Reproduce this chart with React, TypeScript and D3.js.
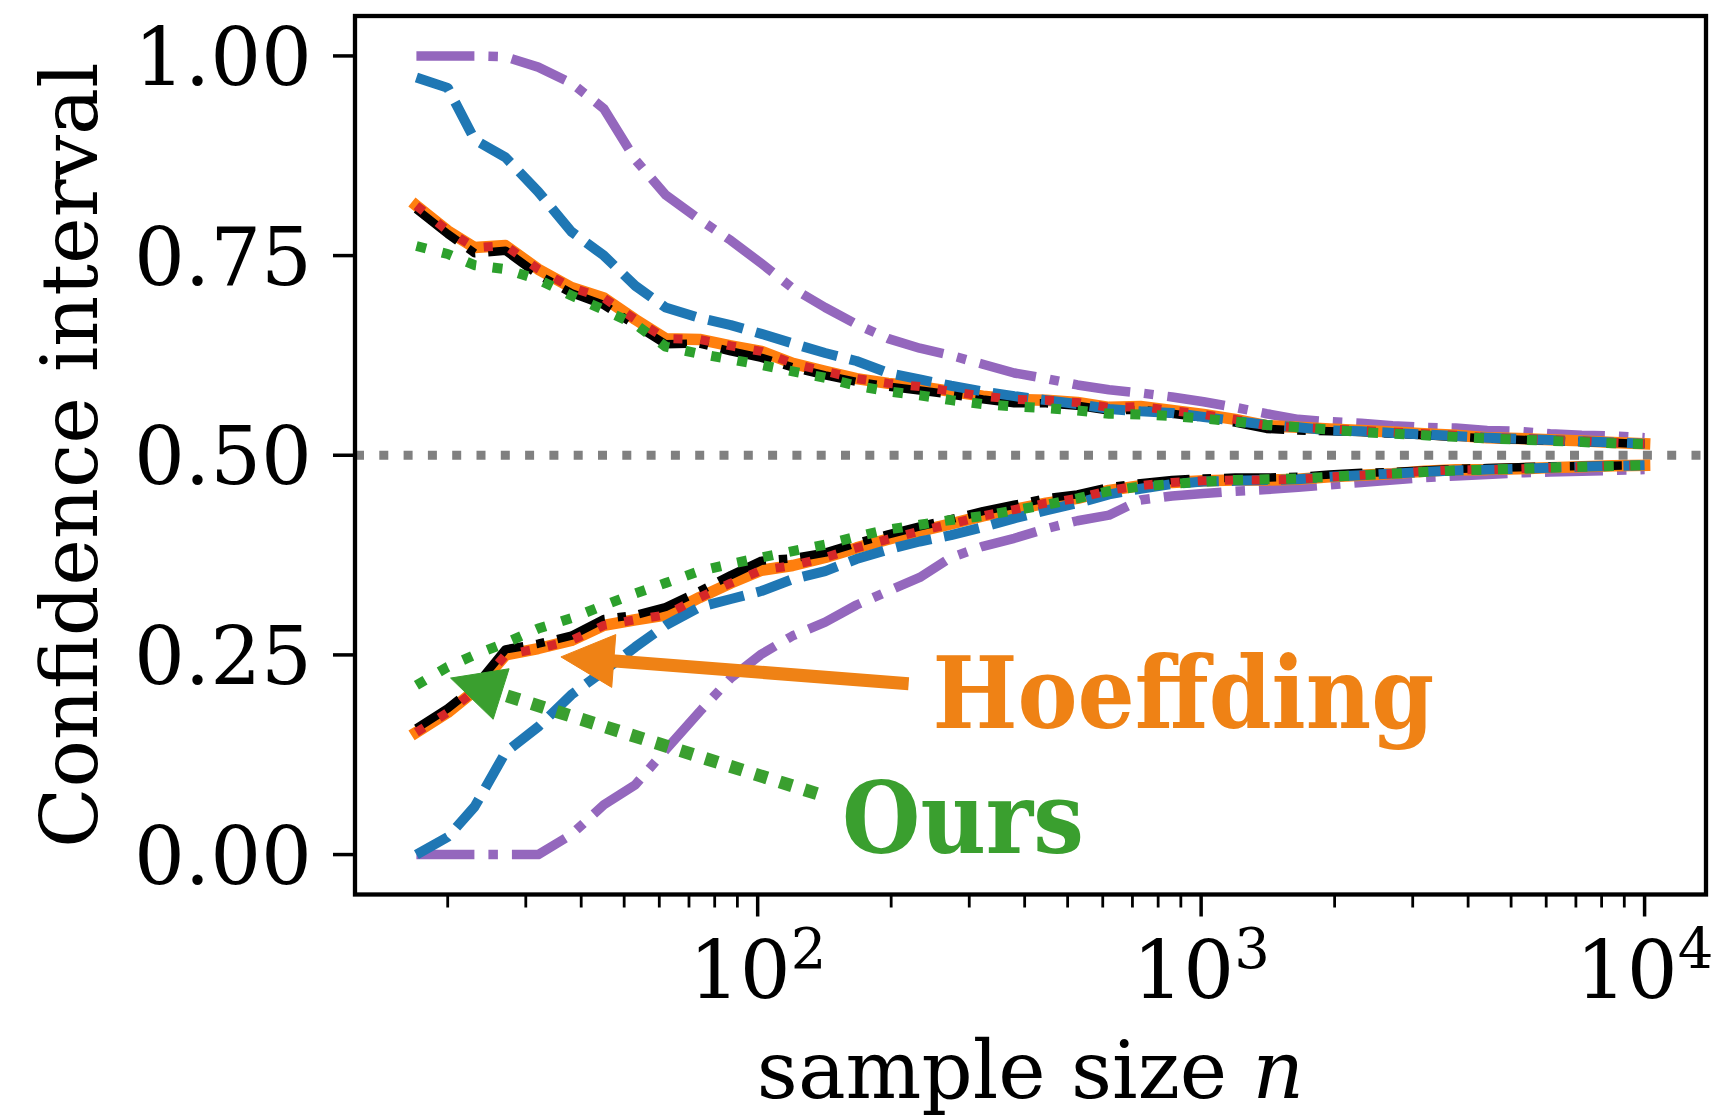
import React from 'react';
import * as d3 from 'd3';

// Sample sizes (log-spaced) at which the intervals were evaluated
const sampleSizes = [17, 20, 23, 27, 32, 38, 45, 53, 62, 74, 87, 102, 120, 142, 167, 197, 232, 273, 322, 379, 447, 526, 620, 730, 860, 1013, 1193, 1405, 1655, 1949, 2296, 2704, 3184, 3750, 4416, 5202, 6126, 7215, 8497, 10000];

// Hoeffding bound (orange, also traced in red dots)
const hoeffdingUpper = [0.8125, 0.781, 0.76, 0.7625, 0.733, 0.71, 0.697, 0.67, 0.646, 0.645, 0.637, 0.63, 0.615, 0.605, 0.596, 0.59, 0.586, 0.58, 0.574, 0.57, 0.569, 0.566, 0.56, 0.561, 0.556, 0.551, 0.545, 0.537, 0.535, 0.533, 0.531, 0.529, 0.527, 0.525, 0.522, 0.521, 0.5195, 0.518, 0.516, 0.5145];
const hoeffdingLower = [0.153, 0.178, 0.205, 0.25, 0.258, 0.268, 0.287, 0.294, 0.3, 0.322, 0.34, 0.356, 0.362, 0.372, 0.384, 0.395, 0.405, 0.414, 0.424, 0.432, 0.44, 0.446, 0.456, 0.462, 0.466, 0.468, 0.469, 0.469, 0.47, 0.473, 0.475, 0.477, 0.48, 0.482, 0.482, 0.483, 0.4845, 0.4855, 0.487, 0.4875];

// Black dash-dot bound
const blackUpper = [0.808, 0.777, 0.753, 0.756, 0.726, 0.703, 0.688, 0.663, 0.639, 0.64, 0.63, 0.622, 0.61, 0.6, 0.592, 0.586, 0.581, 0.576, 0.57, 0.565, 0.565, 0.562, 0.556, 0.557, 0.552, 0.547, 0.541, 0.533, 0.531, 0.53, 0.529, 0.527, 0.525, 0.523, 0.521, 0.5195, 0.518, 0.5165, 0.5155, 0.514];
const blackLower = [0.158, 0.183, 0.21, 0.257, 0.264, 0.274, 0.295, 0.3, 0.31, 0.33, 0.35, 0.368, 0.371, 0.378, 0.39, 0.401, 0.411, 0.42, 0.43, 0.438, 0.446, 0.451, 0.46, 0.465, 0.469, 0.471, 0.472, 0.472, 0.473, 0.476, 0.478, 0.479, 0.481, 0.483, 0.484, 0.485, 0.486, 0.4865, 0.487, 0.4875];

// Our bound (green dots)
const oursUpper = [0.762, 0.752, 0.738, 0.733, 0.72, 0.7, 0.682, 0.664, 0.636, 0.627, 0.62, 0.613, 0.605, 0.597, 0.587, 0.58, 0.575, 0.569, 0.564, 0.561, 0.559, 0.556, 0.552, 0.551, 0.549, 0.546, 0.542, 0.538, 0.535, 0.532, 0.529, 0.527, 0.525, 0.523, 0.521, 0.5195, 0.518, 0.5165, 0.515, 0.514];
const oursLower = [0.212, 0.235, 0.25, 0.265, 0.283, 0.296, 0.312, 0.327, 0.34, 0.355, 0.364, 0.372, 0.38, 0.388, 0.398, 0.407, 0.413, 0.419, 0.424, 0.431, 0.438, 0.446, 0.455, 0.461, 0.464, 0.467, 0.469, 0.47, 0.471, 0.473, 0.475, 0.477, 0.479, 0.481, 0.482, 0.483, 0.4845, 0.4855, 0.4865, 0.4875];

// Blue dashed bound
const blueUpper = [0.973, 0.96, 0.895, 0.873, 0.83, 0.78, 0.75, 0.712, 0.685, 0.672, 0.663, 0.652, 0.64, 0.628, 0.618, 0.603, 0.595, 0.587, 0.58, 0.574, 0.569, 0.564, 0.558, 0.555, 0.553, 0.548, 0.543, 0.538, 0.535, 0.531, 0.53, 0.528, 0.526, 0.524, 0.522, 0.5205, 0.519, 0.5175, 0.516, 0.5145];
const blueLower = [0.0, 0.022, 0.06, 0.128, 0.16, 0.2, 0.23, 0.26, 0.287, 0.31, 0.32, 0.33, 0.345, 0.355, 0.37, 0.382, 0.392, 0.4, 0.41, 0.421, 0.431, 0.44, 0.451, 0.458, 0.464, 0.467, 0.468, 0.469, 0.47, 0.473, 0.475, 0.477, 0.479, 0.481, 0.482, 0.483, 0.4845, 0.4855, 0.4865, 0.4875];

// Purple dash-dot bound
const purpleUpper = [1.0, 1.0, 1.0, 0.999, 0.986, 0.966, 0.934, 0.87, 0.826, 0.795, 0.769, 0.74, 0.709, 0.685, 0.664, 0.646, 0.634, 0.625, 0.614, 0.603, 0.596, 0.588, 0.582, 0.578, 0.573, 0.567, 0.56, 0.552, 0.545, 0.542, 0.54, 0.537, 0.535, 0.534, 0.531, 0.53, 0.527, 0.525, 0.524, 0.522];
const purpleLower = [0.0, 0.0, 0.0, 0.0, 0.0, 0.025, 0.0625, 0.0875, 0.131, 0.179, 0.221, 0.251, 0.274, 0.291, 0.3125, 0.33, 0.347, 0.372, 0.386, 0.396, 0.408, 0.418, 0.425, 0.444, 0.449, 0.452, 0.455, 0.457, 0.46, 0.463, 0.466, 0.469, 0.472, 0.474, 0.476, 0.478, 0.479, 0.48, 0.481, 0.482];

const yTicks = [0, 0.25, 0.5, 0.75, 1.0];
const xMajorTicks = [100, 1000, 10000];
const xMinorTicks = [20, 30, 40, 50, 60, 70, 80, 90, 200, 300, 400, 500, 600, 700, 800, 900, 2000, 3000, 4000, 5000, 6000, 7000, 8000, 9000];
const referenceLevel = 0.5;

// Annotation anchors in data coordinates: arrow tip, arrow tail, text start
const hoeffdingNote = { label: 'Hoeffding', tip: [36, 0.2475], tail: [219, 0.214], text: [248, 0.159] };
const oursNote = { label: 'Ours', tip: [20.3, 0.221], tail: [136, 0.0763], text: [155, 0.0015] };

const FONT = '"DejaVu Serif", serif';
const NOTE_FONT = '"DejaVu Serif Condensed", "DejaVu Serif", serif';
const C = {
  purple: '#9467bd', blue: '#1f77b4', orange: '#ff7f0e', black: '#000000',
  red: '#d62728', green: '#2ca02c', gray: '#808080',
  noteOrange: '#ef8215', noteGreen: '#3a9f2f',
};

const L = { left: 355, right: 1706, top: 16, bottom: 894.5 };

export default function App() {
  const logMin = Math.log10(sampleSizes[0]);
  const logMax = Math.log10(sampleSizes[sampleSizes.length - 1]);
  const pad = 0.05 * (logMax - logMin);
  const x = d3.scaleLog().domain([10 ** (logMin - pad), 10 ** (logMax + pad)]).range([L.left, L.right]);
  const y = d3.scaleLinear().domain([-0.05, 1.05]).range([L.bottom, L.top]);

  const line = d3.line<[number, number]>().x(d => x(d[0])).y(d => y(d[1]));
  const pts = (vals: number[]) => sampleSizes.map((n, i) => [n, vals[i]] as [number, number]);

  const series = [
    { up: purpleUpper, lo: purpleLower, color: C.purple, w: 9.5, dash: '58 14 9.5 14', cap: 'butt' },
    { up: hoeffdingUpper, lo: hoeffdingLower, color: C.orange, w: 11.5, dash: null, cap: 'square' },
    { up: blackUpper, lo: blackLower, color: C.black, w: 8.5, dash: '52 13 8.5 13', cap: 'butt' },
    { up: blueUpper, lo: blueLower, color: C.blue, w: 10, dash: '36 13', cap: 'butt' },
    { up: hoeffdingUpper, lo: hoeffdingLower, color: C.red, w: 9, dash: '9 18', cap: 'butt' },
    { up: oursUpper, lo: oursLower, color: C.green, w: 10, dash: '10 16.5', cap: 'butt' },
  ];

  const fs = 80;

  const arrow = (note: any, color: string, dotted: boolean) => {
    const [tx, ty] = [x(note.tip[0]), y(note.tip[1])];
    const [sx, sy] = [x(note.tail[0]), y(note.tail[1])];
    const dx = tx - sx, dy = ty - sy;
    const len = Math.hypot(dx, dy);
    const ux = dx / len, uy = dy / len;
    const headLen = 53, halfW = 26.5;
    const bx = tx - ux * headLen, by = ty - uy * headLen;
    const head = `M${tx},${ty} L${bx - uy * halfW},${by + ux * halfW} L${bx + uy * halfW},${by - ux * halfW} Z`;
    return (
      <g>
        <line x1={sx} y1={sy} x2={bx + ux * 2} y2={by + uy * 2} stroke={color} strokeWidth={13}
          strokeDasharray={dotted ? '13 13' : undefined} strokeLinecap="butt" />
        <path d={head} fill={color} stroke={color} strokeWidth={1} />
      </g>
    );
  };

  return (
    <svg width={1720} height={1119} style={{ position: 'absolute', left: 0, top: 0, background: '#fff' }}
      fontFamily={FONT}>
      <rect x={0} y={0} width={1720} height={1119} fill="#fff" />
      <defs>
        <clipPath id="plot-area">
          <rect x={L.left} y={L.top} width={L.right - L.left} height={L.bottom - L.top} />
        </clipPath>
      </defs>

      <g clipPath="url(#plot-area)">
        <line x1={L.left} x2={L.right} y1={y(referenceLevel)} y2={y(referenceLevel)}
          stroke={C.gray} strokeWidth={9} strokeDasharray="9 15.3" />
        {series.map((s, i) => (
          <g key={i}>
            {[s.up, s.lo].map((vals, j) => (
              <path key={j} d={line(pts(vals)) || ''} fill="none" stroke={s.color} strokeWidth={s.w}
                strokeDasharray={s.dash || undefined} strokeLinecap={s.cap as any} strokeLinejoin="round" />
            ))}
          </g>
        ))}
      </g>

      {/* axes frame */}
      <rect x={L.left} y={L.top} width={L.right - L.left} height={L.bottom - L.top}
        fill="none" stroke="#000" strokeWidth={4.3} />

      {/* y axis ticks and labels */}
      {yTicks.map(t => (
        <g key={t}>
          <line x1={L.left - 22} x2={L.left} y1={y(t)} y2={y(t)} stroke="#000" strokeWidth={3.5} />
          <text x={312} y={y(t) + 0.3645 * fs} fontSize={fs} textAnchor="end">{t.toFixed(2)}</text>
        </g>
      ))}

      {/* x axis ticks and labels */}
      {xMinorTicks.map(t => (
        <line key={t} x1={x(t)} x2={x(t)} y1={L.bottom} y2={L.bottom + 13} stroke="#000" strokeWidth={2.8} />
      ))}
      {xMajorTicks.map(t => (
        <g key={t}>
          <line x1={x(t)} x2={x(t)} y1={L.bottom} y2={L.bottom + 22} stroke="#000" strokeWidth={3.5} />
          <text x={x(t)} y={998} fontSize={fs} textAnchor="middle">
            10<tspan fontSize={fs * 0.7} dy={-30}>{Math.round(Math.log10(t))}</tspan>
          </text>
        </g>
      ))}

      <text x={(L.left + L.right) / 2} y={1098} fontSize={fs} textAnchor="middle">
        sample size <tspan fontStyle="italic">n</tspan>
      </text>
      <text transform={`translate(97,${(L.top + L.bottom) / 2}) rotate(-90)`} fontSize={79} textAnchor="middle">
        Confidence interval
      </text>

      {/* annotations */}
      {arrow(hoeffdingNote, C.noteOrange, false)}
      {arrow(oursNote, C.noteGreen, true)}
      <text x={x(hoeffdingNote.text[0])} y={y(hoeffdingNote.text[1])} fontSize={100} fontWeight="bold"
        fontFamily={NOTE_FONT} style={{ fontStretch: 'condensed' }}
        fill={C.noteOrange}>{hoeffdingNote.label}</text>
      <text x={x(oursNote.text[0])} y={y(oursNote.text[1])} fontSize={100} fontWeight="bold"
        fontFamily={NOTE_FONT} style={{ fontStretch: 'condensed' }}
        fill={C.noteGreen}>{oursNote.label}</text>
    </svg>
  );
}
